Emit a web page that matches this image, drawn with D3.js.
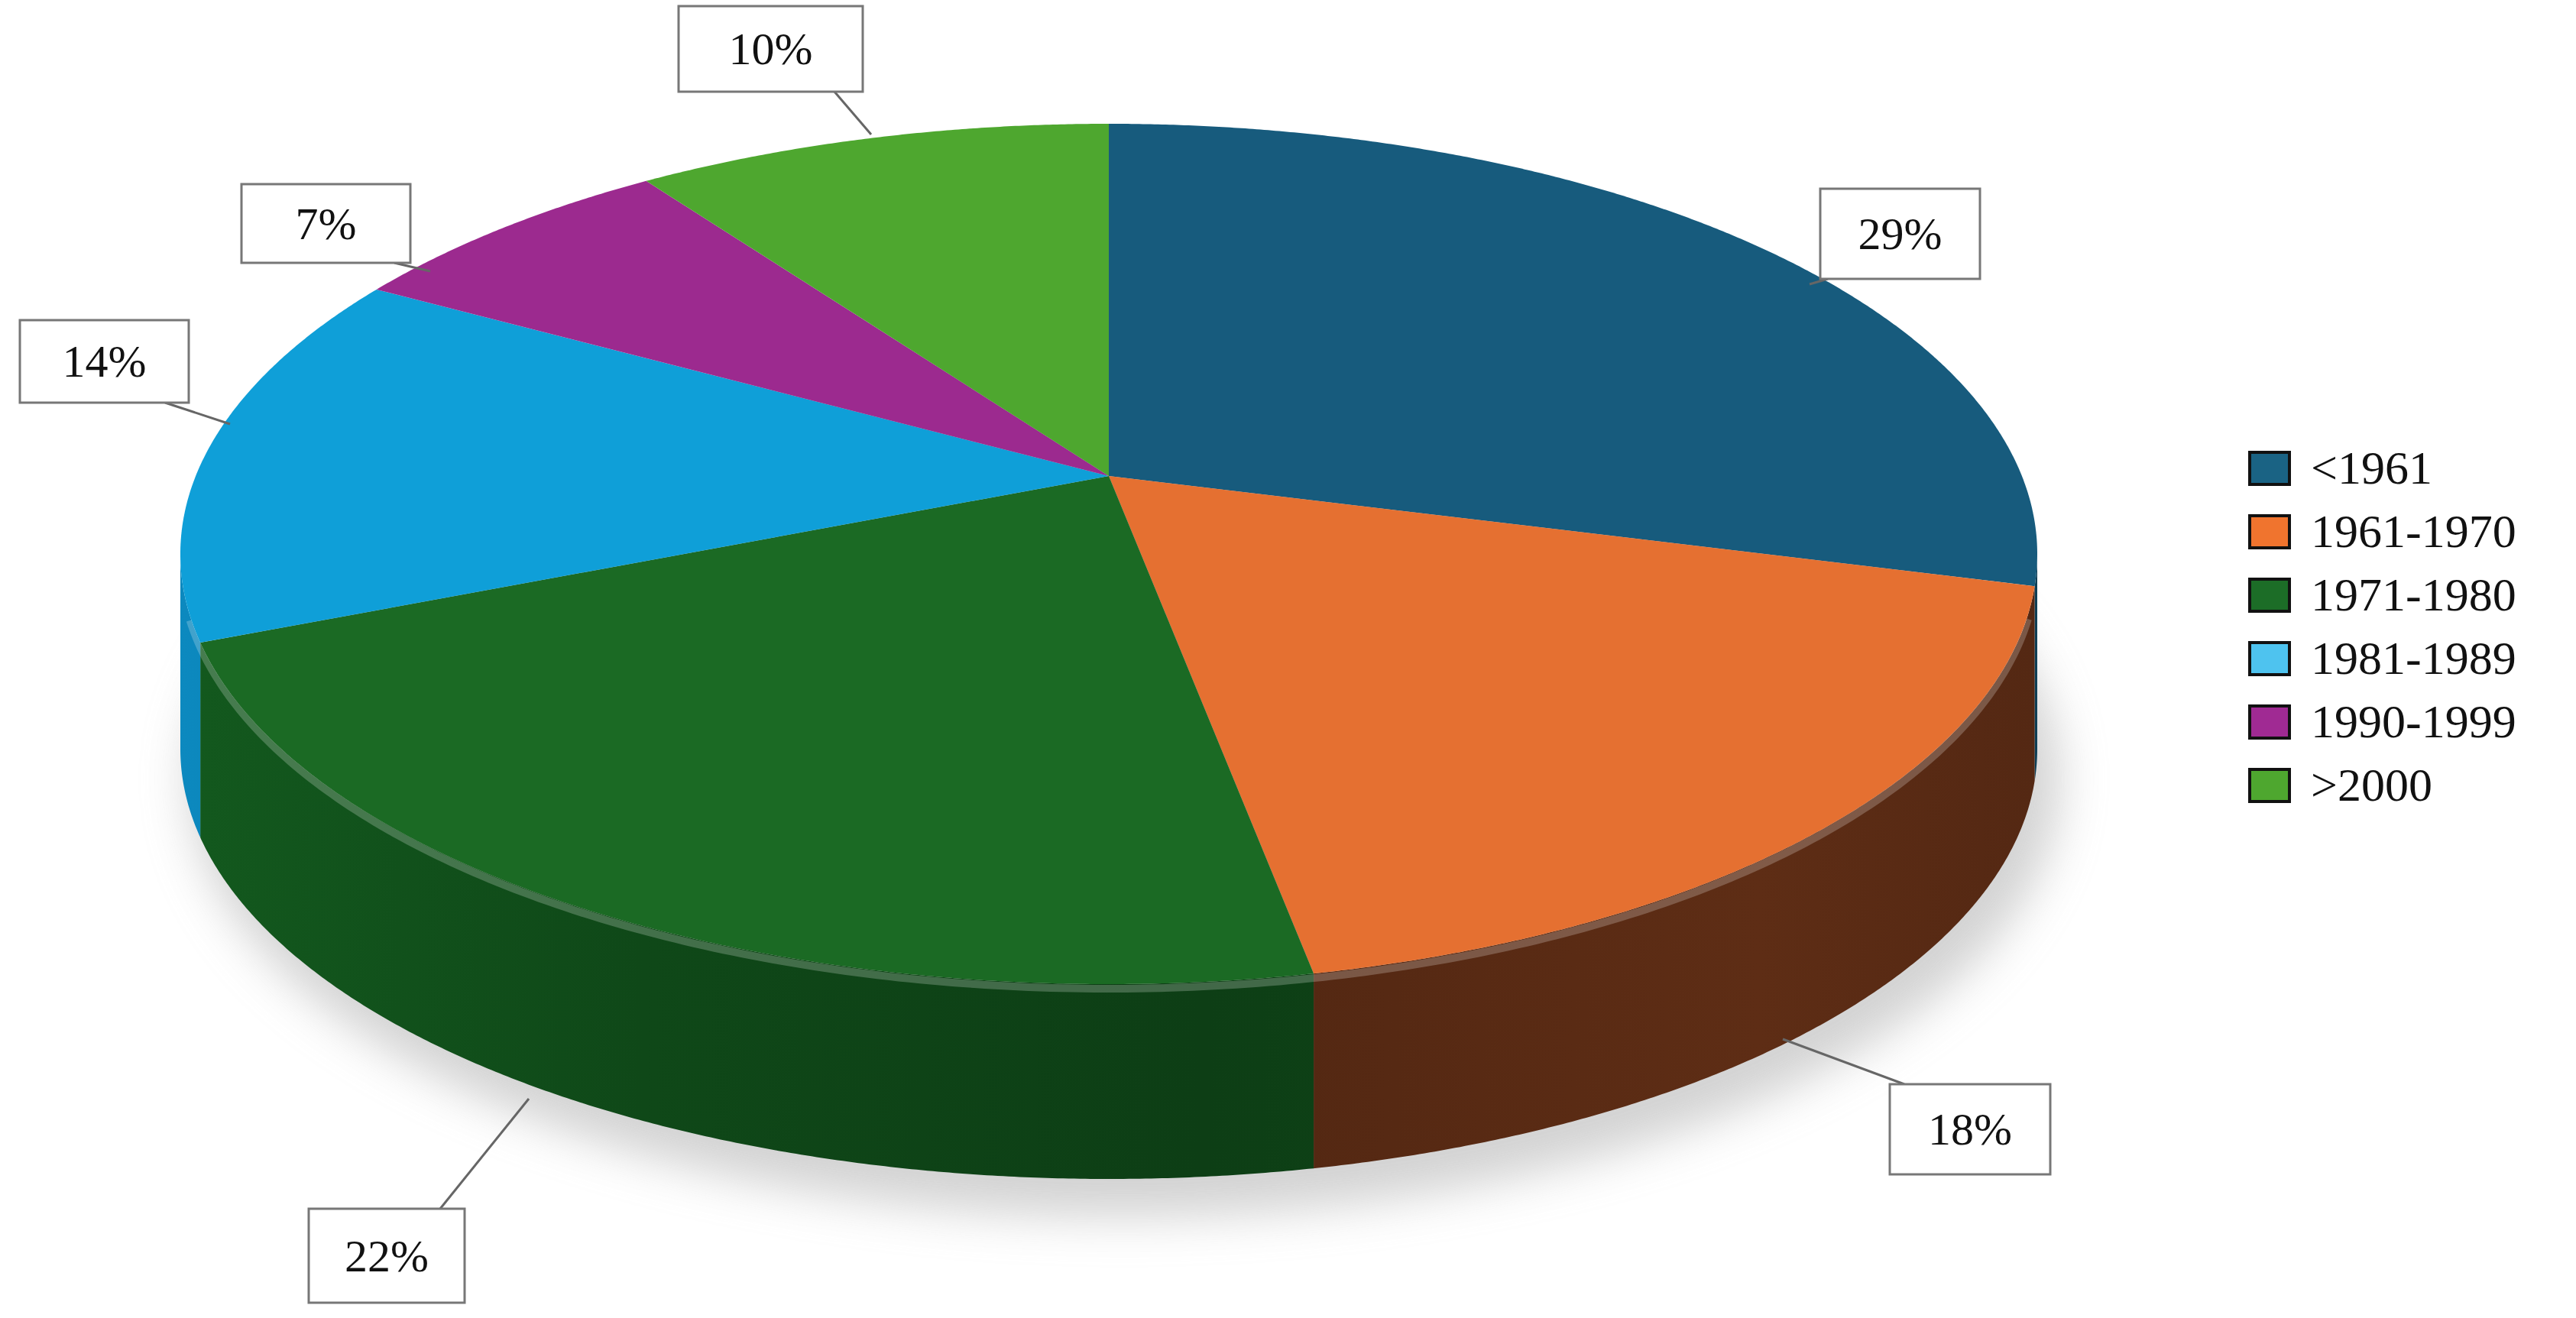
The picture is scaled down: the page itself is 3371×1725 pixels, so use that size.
<!DOCTYPE html>
<html><head><meta charset="utf-8">
<script src="https://cdn.jsdelivr.net/npm/d3@7"></script>
<style>body{margin:0;background:#fff}</style></head>
<body><svg id="c" width="3371" height="1725"></svg>
<script>
const categories = ["<1961","1961-1970","1971-1980","1981-1989","1990-1999",">2000"];
const values = [29,18,22,14,7,10];
const labels = ["29%","18%","22%","14%","7%","10%"];
const topColors = ["#175b7d","#e57031","#1b6a24","#0f9fd8","#9c2a8f","#4ea72f"];
const sideColors = ["#10455f","#5e2d15","#0f4818","#0a6f9a","#6a1d62","#357520"];
const legendColors = ["#1a6384","#f0742e","#1c6d27","#4ec3ef","#a02a93","#4ea72f"];
// label box layout (x, y, w, h) and leader lines
const boxLayout = [[2382,247,209,118],[2473,1419,210,118],[404,1582,204,123],[26,419,221,108],[316,241,221,103],[888,8,241,112]];
const leaders = [[2392,365,2368,372],[2492,1419,2333,1360],[576,1582,692,1438],[216,527,301,555],[516,344,563,355],[1092,120,1140,176]];

const svg = d3.select("#c");
const cx = 1451, cy = 623, ecy = 725, rx = 1215, ry = 563, depth = 255;
function proj(a){ // ray from apex in perspective direction, intersected with rim ellipse
  const dx = Math.sin(a)*rx, dy = -Math.cos(a)*ry, uy = cy-ecy;
  const A = (dx/rx)**2 + (dy/ry)**2, B = 2*uy*dy/(ry*ry), C = (uy/ry)**2 - 1;
  const t = (-B + Math.sqrt(B*B - 4*A*C))/(2*A);
  return [cx + t*dx, cy + t*dy];
}
const pie = d3.pie().sort(null).value(d=>d)(values);
const line = d3.line();
const defs = svg.append("defs");
const blur = defs.append("filter").attr("id","bl").attr("x","-20%").attr("y","-20%").attr("width","140%").attr("height","140%");
blur.append("feGaussianBlur").attr("stdDeviation",30);
svg.append("ellipse").attr("cx",cx+20).attr("cy",ecy+depth+40).attr("rx",rx+10).attr("ry",ry+10)
  .attr("fill","#c8c8c8").attr("filter","url(#bl)").attr("opacity",0.8);

// sides
pie.forEach((p,i)=>{
  const angs = d3.range(p.startAngle, p.endAngle, 0.005).concat([p.endAngle]);
  const pts = angs.map(proj);
  // keep only the front (lower) half of the rim
  const front = pts.filter(([x,y])=>y >= ecy - 1);
  if (front.length < 2) return;
  const botPts = front.map(([x,y])=>[x,y+depth]).reverse();
  const g = defs.append("linearGradient").attr("id","sg"+i).attr("gradientUnits","userSpaceOnUse")
    .attr("x1",cx-rx).attr("x2",cx+rx).attr("y1",0).attr("y2",0);
  const base = d3.color(sideColors[i]);
  [[0,base.brighter(0.6)],[0.25,base],[0.55,base.darker(0.4)],[0.85,base],[1,base.darker(0.3)]].forEach(([o,c])=>
    g.append("stop").attr("offset",o).attr("stop-color",c));
  svg.append("path").attr("d", line(front.concat(botPts))+"Z").attr("fill","url(#sg"+i+")");
});
// highlight rim
const rimAngs = d3.range(Math.PI*0.6, Math.PI*1.4, 0.01);
svg.append("path").attr("d", line(rimAngs.map(proj).map(([x,y])=>[x,y+6])))
  .attr("fill","none").attr("stroke","#ffffff").attr("stroke-opacity",0.22).attr("stroke-width",10);
// tops
pie.forEach((p,i)=>{
  const angs = d3.range(p.startAngle, p.endAngle, 0.005).concat([p.endAngle]);
  svg.append("path").attr("d", line([[cx,cy]].concat(angs.map(proj)))+"Z").attr("fill",topColors[i]);
});
// labels
const lg = svg.append("g");
pie.forEach((p,i)=>{
  const [x,y,w,h] = boxLayout[i], L = leaders[i];
  lg.append("line").attr("x1",L[0]).attr("y1",L[1]).attr("x2",L[2]).attr("y2",L[3])
    .attr("stroke","#666").attr("stroke-width",3);
  lg.append("rect").attr("x",x).attr("y",y).attr("width",w).attr("height",h)
    .attr("fill","#fff").attr("stroke","#777").attr("stroke-width",3);
  lg.append("text").attr("x",x+w/2).attr("y",y+h/2+20).attr("text-anchor","middle")
    .attr("font-family","Liberation Serif, serif").attr("font-size",60).attr("fill","#111").text(labels[i]);
});
// legend
const leg = svg.append("g");
categories.forEach((c,i)=>{
  const y = 592 + i*83;
  leg.append("rect").attr("x",2944).attr("y",y).attr("width",52).attr("height",42)
    .attr("fill",legendColors[i]).attr("stroke","#111").attr("stroke-width",4);
  leg.append("text").attr("x",3024).attr("y",y+41).attr("font-family","Liberation Serif, serif")
    .attr("font-size",62).attr("fill","#111").text(c);
});
</script></body></html>
